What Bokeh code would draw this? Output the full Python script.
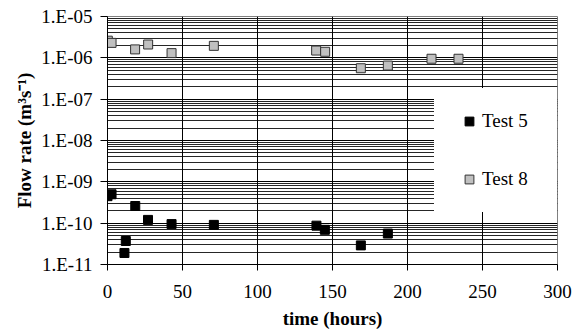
from bokeh.plotting import figure
from bokeh.models import FixedTicker, CustomJSTickFormatter, Legend, LegendItem, ColumnDataSource
from bokeh.embed import file_html
from bokeh.resources import INLINE

# ---- data ----
t5_time = [0.0, 2.7, 18.5, 27.0, 42.7, 11.3, 12.2, 70.9, 139.3, 144.9, 168.9, 186.9]
t5_flow = [4.5e-10, 5.0e-10, 2.6e-10, 1.2e-10, 9.5e-11, 1.9e-11, 3.7e-11, 9.1e-11, 8.7e-11, 6.9e-11, 2.9e-11, 5.6e-11]

t8_time = [0.2, 2.7, 18.4, 27.1, 42.7, 70.9, 139.1, 145.1, 168.9, 186.9, 216.0, 234.0]
t8_flow = [2.6e-6, 2.3e-6, 1.6e-6, 2.1e-6, 1.3e-6, 1.95e-6, 1.5e-6, 1.4e-6, 5.6e-7, 6.5e-7, 9.5e-7, 9.5e-7]

x_ticks = [0, 50, 100, 150, 200, 250, 300]
y_major = [1e-11, 1e-10, 1e-9, 1e-8, 1e-7, 1e-6, 1e-5]
y_minor = [k * d for d in y_major[:-1] for k in range(2, 10)]

FONT = "Liberation Serif"

p = figure(width=578, height=335, output_backend="svg", toolbar_location=None,
           y_axis_type="log", x_range=(0, 300), y_range=(1e-11, 1e-5),
           min_border_left=107, min_border_right=21, min_border_top=16, min_border_bottom=71)
p.outline_line_color = "#808080"
p.background_fill_color = "white"

# grids
p.xgrid.ticker = FixedTicker(ticks=x_ticks)
p.xgrid.grid_line_color = "black"
p.xgrid.grid_line_width = 1
p.ygrid.ticker = FixedTicker(ticks=y_major, minor_ticks=y_minor)
p.ygrid.grid_line_color = "black"
p.ygrid.minor_grid_line_color = "black"
p.ygrid.minor_grid_line_alpha = 0.85

# axes
p.xaxis.ticker = FixedTicker(ticks=x_ticks)
p.yaxis.ticker = FixedTicker(ticks=y_major)
p.yaxis.formatter = CustomJSTickFormatter(code="""
const e = Math.round(Math.log10(tick));
const s = e < 0 ? '-' : '+';
return '1.E' + s + String(Math.abs(e)).padStart(2, '0');
""")
for ax in (p.xaxis[0], p.yaxis[0]):
    ax.axis_line_color = "black"
    ax.major_tick_line_color = "black"
    ax.minor_tick_line_color = None
    ax.major_tick_in = 0
    ax.major_label_text_font = FONT
    ax.major_label_text_font_size = "19px"
    ax.major_label_text_color = "black"
    ax.axis_label_text_font = FONT
    ax.axis_label_text_font_size = "19px"
    ax.axis_label_text_font_style = "bold"
    ax.axis_label_text_color = "black"

p.xaxis.major_tick_out = 6
p.xaxis.major_label_standoff = 14
p.xaxis.axis_label = "time (hours)"
p.xaxis.axis_label_standoff = 7
p.yaxis.major_tick_out = 7
p.yaxis.major_label_standoff = 8
p.yaxis.axis_label = "Flow rate (m\u00b3s\u207b\u00b9)"
p.yaxis.axis_label_standoff = 3

src5 = ColumnDataSource(dict(x=t5_time, y=t5_flow))
src8 = ColumnDataSource(dict(x=t8_time, y=t8_flow))
r5 = p.scatter("x", "y", source=src5, marker="square", size=9,
               fill_color="black", line_color="black")
r8 = p.scatter("x", "y", source=src8, marker="square", size=9,
               fill_color="#c0c0c0", line_color="#333333", line_width=1)

legend = Legend(items=[LegendItem(label="Test 5", renderers=[r5]),
                       LegendItem(label="Test 8", renderers=[r8])],
                location=(327, 52), padding=21, spacing=36,
                glyph_width=26, glyph_height=22, label_height=22, label_width=53,
                label_standoff=0,
                border_line_color="white", background_fill_color="white",
                background_fill_alpha=1, margin=0,
                label_text_font=FONT, label_text_font_size="19px",
                label_text_color="black")
p.add_layout(legend)

open("out.html", "w").write(file_html(p, INLINE))
